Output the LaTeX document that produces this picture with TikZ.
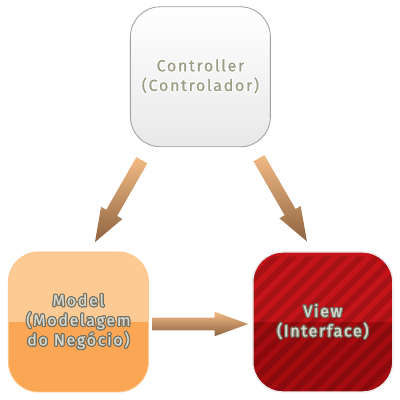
\documentclass[tikz,border=0pt]{standalone}
\usepackage{fontspec}
\setmainfont{Fira Sans}
\newfontfamily\mvcfont[LetterSpace=10,FakeBold=0.7]{Fira Sans}
\usepackage[copies]{contour}
\usetikzlibrary{shapes.arrows,calc}
\definecolor{ctrlText}{HTML}{9C9C84}
\definecolor{boxText}{HTML}{D8D8CC}
\definecolor{rimGray}{HTML}{6E6E62}
\definecolor{arrowLight}{HTML}{F2BA84}
\definecolor{arrowDark}{HTML}{8E6440}
\definecolor{modelTop}{HTML}{FDCA94}
\definecolor{modelBottom}{HTML}{FBA654}
\definecolor{viewTop}{HTML}{C4141A}
\definecolor{viewBottom}{HTML}{A40C10}
\newcommand{\glow}[2]{\contourlength{0.75pt}\contour{#1}{#2}}

\tikzset{
  mvcbox/.style={rounded corners=0.75cm, minimum size=3.5cm, inner sep=0pt,
    align=center, line width=0.6pt, font=\mvcfont\fontsize{11.5}{14}\selectfont},
  flow/.style={single arrow, inner xsep=0pt, inner ysep=0.15cm, minimum width=0.6cm,
    single arrow head extend=0.15cm, single arrow tip angle=40, anchor=tail,
    minimum height=2.4cm, top color=arrowLight, bottom color=arrowDark}
}

\begin{document}
\begin{tikzpicture}
    \useasboundingbox (0,0) rectangle (10,10);
    \node[mvcbox, draw=gray!75, top color=white, bottom color=gray!18,
        text=ctrlText] (ctrl) at (5.01,8.08)
        {\glow{white}{Controller}\\\glow{white}{(Controlador)}};
    \node[mvcbox, draw=orange!45, fill=modelBottom, text=boxText,
        path picture={\fill[modelTop, sharp corners]
            (path picture bounding box.west) rectangle (path picture bounding box.north east);}]
        (model) at (1.96,1.95)
        {\glow{rimGray}{Model}\\\glow{rimGray}{(Modelagem}\\\glow{rimGray}{do Negócio)}};
    \node[mvcbox, draw=gray!15, line width=1pt, fill=viewBottom, text=boxText,
        path picture={\fill[viewTop, sharp corners]
            (path picture bounding box.west) rectangle (path picture bounding box.north east);
          \foreach \k in {-14,...,14}
            \fill[black, opacity=.15, sharp corners, shift={(path picture bounding box.center)}]
              (\k*0.425-2,-2) -- ++(0.21,0) -- ++(4,4) -- ++(-0.21,0) -- cycle;}]
        (view) at (8.07,1.95)
        {\glow{rimGray}{View}\\\glow{rimGray}{(Interface)}};
    \node[flow, rotate=240.2, minimum height=2.36cm] (c2m) at (3.55,6.0) {};
    \node[flow, rotate=-60] (c2v) at (6.47,6.05) {};
    \node[flow] (m2v) at (3.8,1.9) {};
\end{tikzpicture}
\end{document}
